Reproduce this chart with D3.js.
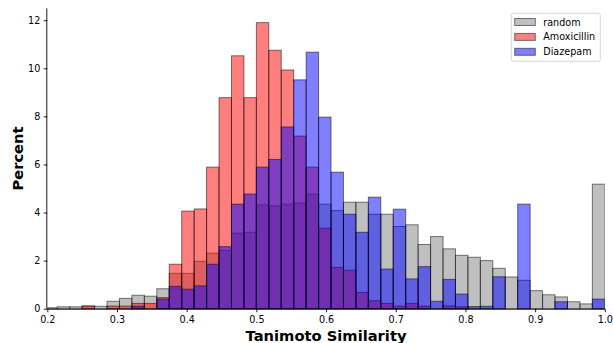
<!DOCTYPE html>
<html>
<head>
<meta charset="utf-8">
<script src="https://cdn.jsdelivr.net/npm/d3@7"></script>
<style>
	body { margin: 0; background: #fff; }
	svg { display: block; font-family: "DejaVu Sans", sans-serif; }
</style>
</head>
<body>
<svg width="613" height="343"></svg>
<script>
// histogram bins share edges k/56, k = 11..56 (45 bins)
var binEdges = d3.range(11, 57).map(function(k) { return k / 56; });

var seriesNames = ["random", "Amoxicillin", "Diazepam"];
var seriesColors = ["#808080", "#ff0000", "#0000ff"];

var random = [0.04, 0.08, 0.08, 0.10, 0.10, 0.31, 0.43, 0.56, 0.52, 0.83,
	1.47, 1.47, 1.97, 2.31, 2.42, 3.14, 3.18, 4.32, 4.28, 4.35,
	4.39, 4.77, 4.35, 4.08, 4.43, 4.43, 3.93, 3.93, 3.42, 3.49,
	2.67, 3.00, 2.49, 2.22, 2.14, 2.00, 1.68, 1.32, 1.18, 0.75,
	0.58, 0.49, 0.29, 0.20, 5.18];

var amoxicillin = [0, 0, 0, 0.12, 0, 0.11, 0.11, 0.22, 0.22, 0.46,
	1.85, 4.06, 4.15, 5.89, 8.78, 10.52, 8.78, 11.90, 10.75, 9.93,
	7.18, 5.89, 3.35, 1.72, 1.60, 0.68, 0.33, 0.22, 0.11, 0.22,
	0.11, 0, 0.12, 0.08, 0, 0, 0, 0, 0, 0,
	0, 0, 0, 0, 0];

var diazepam = [0, 0, 0, 0, 0, 0, 0, 0.10, 0, 0.40,
	0.93, 0.81, 0.95, 1.85, 2.58, 4.35, 4.77, 5.89, 6.21, 7.56,
	9.52, 10.67, 7.97, 5.68, 3.93, 3.18, 4.64, 1.65, 4.14, 1.24,
	1.75, 0.31, 1.22, 0.61, 0.09, 0.10, 1.33, 0, 4.35, 0,
	0, 0.29, 0, 0, 0.40];

var xTicks = [0.2, 0.3, 0.4, 0.5, 0.6, 0.7, 0.8, 0.9, 1.0];
var yTicks = [0, 2, 4, 6, 8, 10, 12];

var svg = d3.select("svg");
var margin = { left: 47.3, right: 8.2, top: 8.3, bottom: 34.3 };
var width = 613 - margin.left - margin.right,
	height = 343 - margin.top - margin.bottom;

var allSeries = [random, amoxicillin, diazepam];
var ymax = d3.max(allSeries, function(s) { return d3.max(s); }) * 1.05;

var x = d3.scaleLinear().domain([0.2, 1.0]).range([0, width]);
var y = d3.scaleLinear().domain([0, ymax]).range([height, 0]);

svg.append("defs").append("clipPath")
	.attr("id", "plotclip")
	.append("rect")
	.attr("x", 0).attr("y", -2)
	.attr("width", width).attr("height", height + 4);

var g = svg.append("g")
	.attr("transform", "translate(" + margin.left + "," + margin.top + ")");

var bars = g.append("g").attr("clip-path", "url(#plotclip)");

allSeries.forEach(function(values, si) {
	bars.append("g")
		.attr("class", "series")
		.selectAll("rect")
		.data(values)
		.enter().append("rect")
		.attr("x", function(d, i) { return x(binEdges[i]); })
		.attr("width", function(d, i) { return x(binEdges[i + 1]) - x(binEdges[i]); })
		.attr("y", function(d) { return y(d); })
		.attr("height", function(d) { return y(0) - y(d); })
		.attr("fill", seriesColors[si])
		.attr("fill-opacity", 0.5)
		.attr("stroke", "#000")
		.attr("stroke-opacity", 0.5)
		.attr("stroke-width", 1);
});

// axes
var xAxis = d3.axisBottom(x).tickValues(xTicks).tickSize(3.5).tickPadding(3.5)
	.tickFormat(d3.format(".1f"));
var yAxis = d3.axisLeft(y).tickValues(yTicks).tickSize(3.5).tickPadding(3.5)
	.tickFormat(d3.format("d"));

var gx = g.append("g")
	.attr("transform", "translate(0," + height + ")")
	.call(xAxis);
var gy = g.append("g").call(yAxis);

[gx, gy].forEach(function(ax) {
	ax.select(".domain").attr("stroke", "#000").attr("stroke-width", 0.9);
	ax.selectAll(".tick line").attr("stroke", "#000").attr("stroke-width", 0.9);
	ax.selectAll(".tick text")
		.attr("fill", "#000")
		.style("font-size", "9.6px")
		.style("font-family", "'DejaVu Sans', sans-serif");
});
// no outer tick caps, like a matplotlib spine
gx.select(".domain").attr("d", "M0,0.5H" + width);
gy.select(".domain").attr("d", "M-0.5," + height + "V0");

// axis labels
svg.append("text")
	.attr("x", margin.left + width / 2)
	.attr("y", 340.5)
	.attr("text-anchor", "middle")
	.style("font-size", "14.7px")
	.style("font-weight", "bold")
	.text("Tanimoto Similarity");

svg.append("text")
	.attr("transform", "translate(22.5," + (margin.top + height / 2) + ") rotate(-90)")
	.attr("text-anchor", "middle")
	.style("font-size", "14.7px")
	.style("font-weight", "bold")
	.text("Percent");

// legend
var legend = svg.append("g").attr("transform", "translate(511.3,13.3)");
legend.append("rect")
	.attr("width", 89)
	.attr("height", 48)
	.attr("rx", 2)
	.attr("fill", "#fff")
	.attr("fill-opacity", 0.8)
	.attr("stroke", "#ccc")
	.attr("stroke-width", 0.8);

var item = legend.selectAll("g.item")
	.data(seriesNames)
	.enter().append("g")
	.attr("class", "item")
	.attr("transform", function(d, i) { return "translate(0," + (8.7 + i * 14.9) + ")"; });

item.append("rect")
	.attr("x", 3.4)
	.attr("y", -3.5)
	.attr("width", 20.6)
	.attr("height", 7)
	.attr("fill", function(d, i) { return seriesColors[i]; })
	.attr("fill-opacity", 0.5)
	.attr("stroke", "#000")
	.attr("stroke-opacity", 0.5)
	.attr("stroke-width", 1);

item.append("text")
	.attr("x", 32)
	.attr("y", 3.5)
	.style("font-size", "9.6px")
	.attr("fill", "#000")
	.text(function(d) { return d; });
</script>
</body>
</html>
